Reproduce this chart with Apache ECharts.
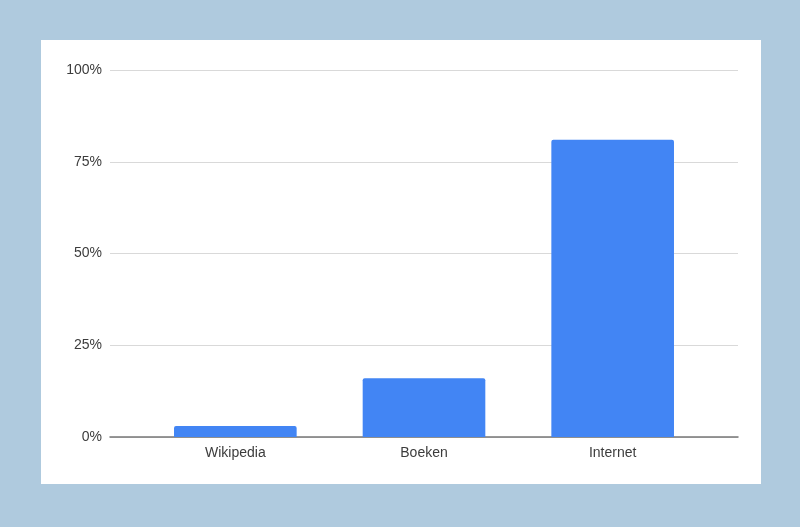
<!DOCTYPE html>
<html lang="nl">
<head>
    <meta charset="UTF-8">
    <title>Bronnen</title>
    <script src="https://cdn.jsdelivr.net/npm/echarts@6/dist/echarts.min.js"></script>
    <style>
        html, body { margin: 0; padding: 0; }
        body { width: 800px; height: 527px; background: #afcade; position: relative; overflow: hidden; }
        #main { position: absolute; left: 41px; top: 40px; width: 720px; height: 444px; background: #fff; }
    </style>
</head>
<body>
<div id="main"></div>
<script type="text/javascript">
    // data
    var categories = ['Wikipedia', 'Boeken', 'Internet'];
    var values = [3, 16, 81];
    var yTicks = [0, 25, 50, 75, 100];

    var labelFont = { color: '#3c3c3c', fontFamily: 'Liberation Sans', fontSize: 14 };

    var myChart = echarts.init(document.getElementById('main'));
    myChart.setOption({
        animation: false,
        // grid 0: gridlines + baseline over the full width, grid 1: bars (inset like Google Charts)
        grid: [
            { left: 69, right: 23, top: 30, bottom: 47 },
            { left: 100, right: 54, top: 30, bottom: 47 }
        ],
        xAxis: [{
            gridIndex: 0,
            type: 'category',
            data: categories,
            axisTick: { show: false },
            axisLabel: { show: false },
            axisLine: { lineStyle: { color: '#777', width: 1.5 } }
        }, {
            gridIndex: 1,
            type: 'category',
            data: categories,
            axisTick: { show: false },
            axisLine: { show: false },
            axisLabel: Object.assign({ margin: 9 }, labelFont)
        }],
        yAxis: [{
            gridIndex: 0,
            type: 'value',
            min: yTicks[0],
            max: yTicks[yTicks.length - 1],
            interval: 25,
            axisLine: { show: false },
            axisTick: { show: false },
            splitLine: { lineStyle: { color: '#d9d9d9', width: 1 } },
            axisLabel: Object.assign({ margin: 8, formatter: '{value}%' }, labelFont)
        }, {
            gridIndex: 1,
            type: 'value',
            min: yTicks[0],
            max: yTicks[yTicks.length - 1],
            interval: 25,
            show: false,
            splitLine: { show: false }
        }],
        series: [{
            type: 'bar',
            xAxisIndex: 1,
            yAxisIndex: 1,
            data: values,
            barCategoryGap: '35%',
            z: 1,
            itemStyle: {
                color: '#4285f4',
                borderRadius: [2, 2, 0, 0]
            }
        }]
    });
</script>
</body>
</html>
